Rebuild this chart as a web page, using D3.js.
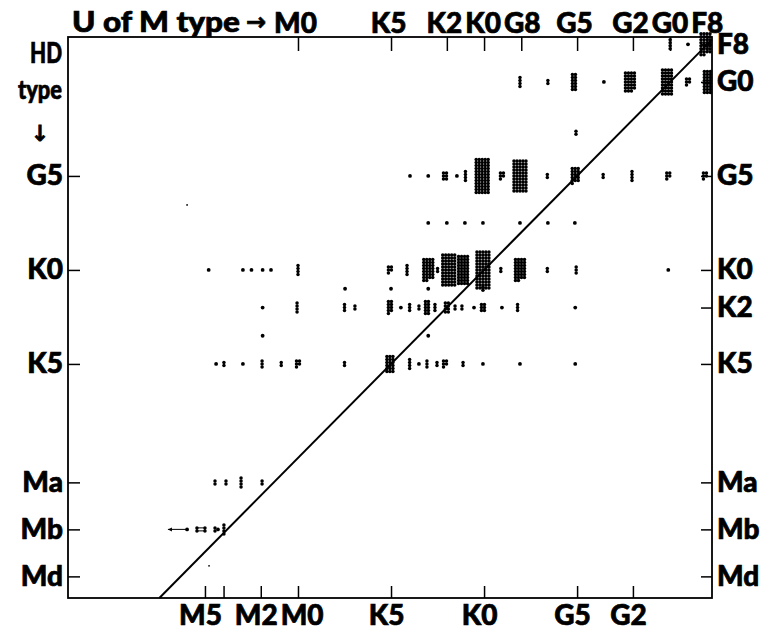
<!DOCTYPE html>
<html>
<head>
<meta charset="utf-8">
<script src="https://cdn.jsdelivr.net/npm/d3@7"></script>
<style>
body { margin: 0; background: #fff; }
text { font-family: Lato, "DejaVu Sans", sans-serif; font-weight: 900; fill: #000; stroke: #000; stroke-width: 0.7; }
</style>
</head>
<body>
<svg id="chart" width="762" height="630"></svg>
<script>
// spectral subtype as one number: F0 = 0, G0 = 10, K0 = 20, M0 = 30
var bottomTicks = [35, 34, 32, 30, 25, 20, 15, 12];
var bottomLabels = ["M5", "", "M2", "M0", "K5", "K0", "G5", "G2"];
var topTicks = [30, 25, 22, 20, 18, 15, 12, 10, 8];
var topLabels = ["M0", "K5", "K2", "K0", "G8", "G5", "G2", "G0", "F8"];
var leftTicks = [15, 20, 25, 31.3, 33.8, 36.3];
var leftLabels = ["G5", "K0", "K5", "Ma", "Mb", "Md"];
var rightTicks = [8, 10, 15, 20, 22, 25, 31.3, 33.8, 36.3];
var rightLabels = ["F8", "G0", "G5", "K0", "K2", "K5", "Ma", "Mb", "Md"];

// each HD row: [U of M type, number of stars]
var rowF8 = [[10.0, 4], [9.04, 1], [8.1, 30]];
var rowG0 = [[18.07, 4], [16.57, 2], [15.17, 12], [13.56, 1], [12.16, 27], [10.17, 36], [9.04, 5], [8.0, 24]];
var rowG3 = [[15.06, 2]];
var rowG5 = [[23.98, 1], [23.0, 1], [22.1, 6], [21.46, 1], [21.0, 4], [20.1, 60], [19.04, 5], [18.07, 55],
             [16.6, 2], [15.1, 16], [13.6, 2], [12.05, 4], [10.1, 5], [8.13, 5]];
var rowG8 = [[23.0, 1], [22.0, 1], [21.03, 1], [20.06, 1], [18.07, 1], [16.57, 1], [15.12, 1]];
var rowK0 = [[34.8, 1], [32.96, 1], [32.5, 1], [31.9, 1], [31.45, 1], [30.0, 4], [25.06, 5], [24.14, 4],
             [23.0, 30], [22.5, 2], [21.9, 55], [21.13, 40], [20.06, 65], [19.1, 2], [18.07, 30], [16.6, 2],
             [15.05, 3], [10.1, 1]];
var rowK1 = [[27.47, 1], [25.0, 1], [23.0, 1], [20.06, 2]];
var rowK2 = [[31.9, 1], [30.05, 4], [27.5, 3], [26.94, 2], [25.06, 9], [24.47, 1], [24.0, 3], [23.5, 2],
             [23.07, 10], [22.64, 3], [22.0, 8], [21.56, 2], [21.19, 2], [20.54, 1], [20.06, 6], [19.04, 1],
             [18.2, 3], [15.1, 1]];
var rowK3 = [[31.9, 1], [23.0, 1]];
var rowK5 = [[34.4, 1], [33.98, 2], [32.96, 1], [31.93, 3], [30.9, 2], [30.0, 5], [27.5, 2], [25.06, 18],
             [24.0, 4], [23.5, 1], [23.07, 3], [22.53, 2], [22.1, 5], [21.13, 2], [20.06, 1], [18.07, 1], [15.1, 1]];
var rowMa = [[34.46, 2], [33.87, 2], [33.06, 4], [31.93, 2]];
var rowMb = [[35.96, 1], [35.43, 2], [35.0, 2], [34.46, 2], [34.3, 1], [33.98, 4]];
var mbArrow = [36.99, 35.96];
var mbBar = [35.43, 35.0];
var strays = [[35.96, 16.54], [34.78, 35.74]];

var rows = [
  {hd: 8, pts: rowF8}, {hd: 10, pts: rowG0}, {hd: 12.7, pts: rowG3}, {hd: 15, pts: rowG5},
  {hd: 17.5, pts: rowG8}, {hd: 20, pts: rowK0}, {hd: 21, pts: rowK1}, {hd: 22, pts: rowK2},
  {hd: 23.5, pts: rowK3}, {hd: 25, pts: rowK5}, {hd: 31.3, pts: rowMa}, {hd: 33.8, pts: rowMb}
];

var margin = {top: 37, right: 50, bottom: 32, left: 68},
    width = 762 - margin.left - margin.right,
    height = 630 - margin.top - margin.bottom;

var svg = d3.select("#chart")
  .append("g")
    .attr("transform", "translate(" + margin.left + "," + margin.top + ")");

var x = d3.scaleLinear().domain([42.36, 7.75]).range([0, width]);
var y = d3.scaleLinear().domain([7.61, 37.45]).range([0, height]);

// small grid of dots, one per star, centred on the point
var pitch = 3;
function cluster(n) {
  var cols = Math.max(1, Math.round(Math.sqrt(n / 2.2)));
  var nr = Math.ceil(n / cols);
  var out = [];
  for (var i = 0; i < n; i++) {
    var c = i % cols, r = Math.floor(i / cols);
    out.push([(c - (cols - 1) / 2) * pitch, (r - (nr - 1) / 2) * pitch]);
  }
  return out;
}

var dots = [];
rows.forEach(function(row) {
  row.pts.forEach(function(p) {
    cluster(p[1]).forEach(function(o) {
      dots.push({cx: x(p[0]) + o[0], cy: y(row.hd) + o[1], single: p[1] == 1});
    });
  });
});

// frame
svg.append("rect")
  .attr("width", width).attr("height", height)
  .attr("fill", "none").attr("stroke", "#000").attr("stroke-width", 1.8);

// axes with inward ticks
function styleAxis(g) {
  g.select(".domain").remove();
  g.selectAll(".tick line").attr("stroke", "#000").attr("stroke-width", 1.5);
  g.selectAll(".tick text").attr("font-size", 28).attr("fill", "#000")
    .attr("font-family", null);
}

// shift labels a little left, then push any that run into the previous one
function nudgeLabels(g, shift) {
  var nodes = g.selectAll(".tick text").nodes().filter(function(n) { return n.textContent; });
  var items = nodes.map(function(n) {
    var tx = +n.parentNode.getAttribute("transform").match(/translate\(([-\d.]+)/)[1];
    return {node: n, cx: tx + shift, w: n.getComputedTextLength() + 1};
  }).sort(function(a, b) { return a.cx - b.cx; });
  for (var i = 1; i < items.length; i++) {
    var prevRight = items[i - 1].cx + items[i - 1].w / 2;
    var left = items[i].cx - items[i].w / 2;
    if (left < prevRight + 2) items[i].cx += prevRight + 2 - left;
  }
  items.forEach(function(it) {
    var tx = +it.node.parentNode.getAttribute("transform").match(/translate\(([-\d.]+)/)[1];
    d3.select(it.node).attr("dx", it.cx - tx);
  });
}

var bottomAxis = svg.append("g")
  .attr("transform", "translate(0," + height + ")")
  .call(d3.axisBottom(x).tickValues(bottomTicks).tickSize(-12).tickPadding(7)
    .tickFormat(function(d, i) { return bottomLabels[i]; }))
  .call(styleAxis);
nudgeLabels(bottomAxis, -5);

var topAxis = svg.append("g")
  .call(d3.axisTop(x).tickValues(topTicks).tickSize(-14).tickPadding(4)
    .tickFormat(function(d, i) { return topLabels[i]; }))
  .call(styleAxis);
nudgeLabels(topAxis, -3);

svg.append("g")
  .call(d3.axisLeft(y).tickValues(leftTicks).tickSize(-12).tickPadding(5)
    .tickFormat(function(d, i) { return leftLabels[i]; }))
  .call(styleAxis);

svg.append("g")
  .attr("transform", "translate(" + width + ",0)")
  .call(d3.axisRight(y).tickValues(rightTicks).tickSize(-11).tickPadding(5)
    .tickFormat(function(d, i) { return rightLabels[i]; }))
  .call(styleAxis);

// titles
svg.append("text")
  .attr("x", 4).attr("y", -5)
  .attr("font-size", 28)
  .attr("textLength", 168).attr("lengthAdjust", "spacingAndGlyphs")
  .text("U of M type");
svg.append("text")
  .attr("x", 188).attr("y", -7)
  .attr("text-anchor", "middle")
  .attr("font-size", 24)
  .style("font-family", "DejaVu Sans")
  .text("\u2192");

svg.append("text").attr("x", -6).attr("y", 26).attr("text-anchor", "end").attr("font-size", 28)
  .attr("textLength", 32).attr("lengthAdjust", "spacingAndGlyphs").text("HD");
svg.append("text").attr("x", -6).attr("y", 62).attr("text-anchor", "end").attr("font-size", 26)
  .attr("textLength", 44).attr("lengthAdjust", "spacingAndGlyphs").text("type");
svg.append("text").attr("x", -28).attr("y", 104).attr("text-anchor", "middle").attr("font-size", 22)
  .style("font-family", "DejaVu Sans").text("\u2193");

// one to one line
svg.append("line")
  .attr("x1", x(37.45)).attr("y1", y(37.45))
  .attr("x2", x(7.75)).attr("y2", y(7.75))
  .attr("stroke", "#000").attr("stroke-width", 2);

// Mb range marks
svg.append("line")
  .attr("x1", x(mbArrow[0])).attr("x2", x(mbArrow[1]))
  .attr("y1", y(33.8)).attr("y2", y(33.8))
  .attr("stroke", "#000").attr("stroke-width", 1);
svg.append("path")
  .attr("d", "M" + x(mbArrow[0]) + "," + y(33.8) + "l4,-2v4z")
  .attr("fill", "#000");
svg.append("rect")
  .attr("x", x(mbBar[0])).attr("width", x(mbBar[1]) - x(mbBar[0]))
  .attr("y", y(33.8) - 1.5).attr("height", 3)
  .attr("fill", "none").attr("stroke", "#000").attr("stroke-width", 1);

// stars
svg.append("g")
  .selectAll("circle")
  .data(dots)
  .enter()
  .append("circle")
    .attr("cx", function(d) { return d.cx; })
    .attr("cy", function(d) { return d.cy; })
    .attr("r", function(d) { return d.single ? 1.9 : 1.75; })
    .attr("fill", "#000");

svg.append("g")
  .selectAll("circle")
  .data(strays)
  .enter()
  .append("circle")
    .attr("cx", function(d) { return x(d[0]); })
    .attr("cy", function(d) { return y(d[1]); })
    .attr("r", 0.9)
    .attr("fill", "#000");
</script>
</body>
</html>
